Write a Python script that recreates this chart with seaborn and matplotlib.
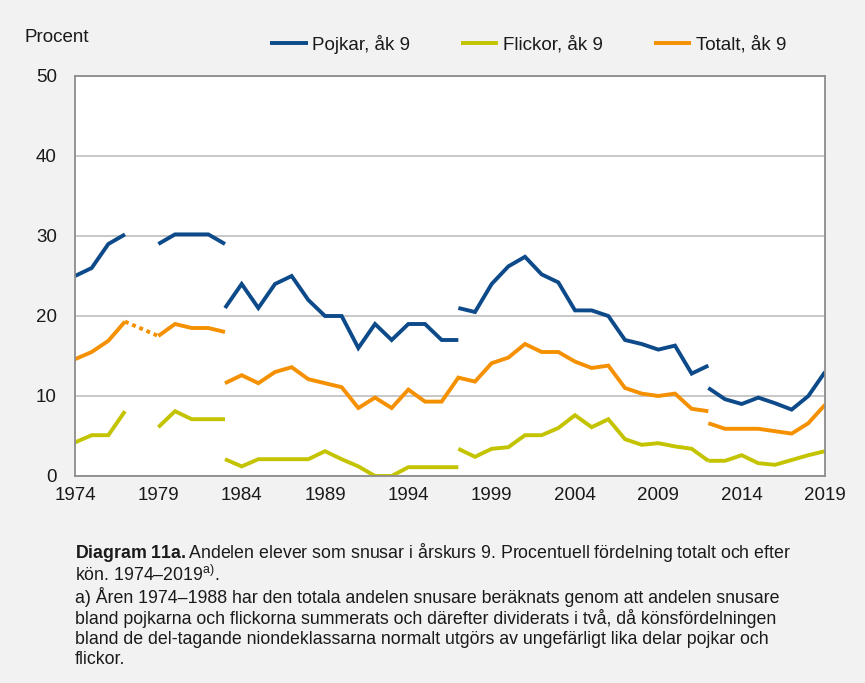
import numpy as np
import pandas as pd
import matplotlib
matplotlib.use("Agg")
import matplotlib.pyplot as plt
import seaborn as sns
from matplotlib.lines import Line2D

# ---------------- data ----------------
series_names = ["Pojkar, åk 9", "Flickor, åk 9", "Totalt, åk 9"]
legend_labels = ["Pojkar, åk 9", "Flickor, åk 9", "Totalt, åk 9"]

# Pojkar (boys) – segments
pojkar_a_years = [1974, 1975, 1976, 1977]
pojkar_a = [25.0, 26.0, 29.0, 30.2]
pojkar_b_years = [1979, 1980, 1981, 1982, 1983]
pojkar_b = [29.0, 30.2, 30.2, 30.2, 29.0]
pojkar_c_years = list(range(1983, 1998))
pojkar_c = [21.0, 24.0, 21.0, 24.0, 25.0, 22.0, 20.0, 20.0, 16.0, 19.0,
            17.0, 19.0, 19.0, 17.0, 17.0]
pojkar_d_years = list(range(1997, 2013))
pojkar_d = [21.0, 20.5, 24.0, 26.2, 27.4, 25.2, 24.2, 20.7, 20.7, 20.0,
            17.0, 16.5, 15.8, 16.3, 12.8, 13.8]
pojkar_e_years = list(range(2012, 2020))
pojkar_e = [11.0, 9.6, 9.0, 9.8, 9.1, 8.3, 10.0, 13.0]

# Flickor (girls) – segments
flickor_a_years = [1974, 1975, 1976, 1977]
flickor_a = [4.2, 5.1, 5.1, 8.1]
flickor_b_years = [1979, 1980, 1981, 1982, 1983]
flickor_b = [6.1, 8.1, 7.1, 7.1, 7.1]
flickor_c_years = list(range(1983, 1998))
flickor_c = [2.1, 1.2, 2.1, 2.1, 2.1, 2.1, 3.1, 2.1, 1.2, 0.0,
             0.0, 1.1, 1.1, 1.1, 1.1]
flickor_d_years = list(range(1997, 2013))
flickor_d = [3.4, 2.4, 3.4, 3.6, 5.1, 5.1, 6.0, 7.6, 6.1, 7.1,
             4.6, 3.9, 4.1, 3.7, 3.4, 1.9]
flickor_e_years = list(range(2012, 2020))
flickor_e = [1.9, 1.9, 2.6, 1.6, 1.4, 2.0, 2.6, 3.1]

# Totalt (total) – segments
totalt_a_years = [1974, 1975, 1976, 1977]
totalt_a = [14.6, 15.5, 16.9, 19.3]
totalt_dot_years = [1977, 1979]
totalt_dot = [19.3, 17.5]
totalt_b_years = [1979, 1980, 1981, 1982, 1983]
totalt_b = [17.5, 19.0, 18.5, 18.5, 18.0]
totalt_c_years = list(range(1983, 2013))
totalt_c = [11.6, 12.6, 11.6, 13.0, 13.6, 12.1, 11.6, 11.1, 8.5, 9.8,
            8.5, 10.8, 9.3, 9.3, 12.3, 11.8, 14.1, 14.8, 16.5, 15.5,
            15.5, 14.3, 13.5, 13.8, 11.0, 10.3, 10.0, 10.3, 8.4, 8.1]
totalt_d_years = list(range(2012, 2020))
totalt_d = [6.6, 5.9, 5.9, 5.9, 5.6, 5.3, 6.6, 8.9]

x_tick_labels = [str(y) for y in range(1974, 2020, 5)]
y_ticks = [0, 10, 20, 30, 40, 50]

caption_lines = [
    r"$\mathbf{Diagram\ 11a.}$Andelen elever som snusar i årskurs 9. Procentuell fördelning totalt och efter",
    r"kön. 1974–2019$^{\mathrm{a)}}$.",
    "a) Åren 1974–1988 har den totala andelen snusare beräknats genom att andelen snusare",
    "bland pojkarna och flickorna summerats och därefter dividerats i två, då könsfördelningen",
    "bland de del-tagande niondeklassarna normalt utgörs av ungefärligt lika delar pojkar och",
    "flickor.",
]

# ---------------- build tables ----------------
solid_segments = [
    (series_names[0], "p_a", pojkar_a_years, pojkar_a),
    (series_names[0], "p_b", pojkar_b_years, pojkar_b),
    (series_names[0], "p_c", pojkar_c_years, pojkar_c),
    (series_names[0], "p_d", pojkar_d_years, pojkar_d),
    (series_names[0], "p_e", pojkar_e_years, pojkar_e),
    (series_names[1], "f_a", flickor_a_years, flickor_a),
    (series_names[1], "f_b", flickor_b_years, flickor_b),
    (series_names[1], "f_c", flickor_c_years, flickor_c),
    (series_names[1], "f_d", flickor_d_years, flickor_d),
    (series_names[1], "f_e", flickor_e_years, flickor_e),
    (series_names[2], "t_a", totalt_a_years, totalt_a),
    (series_names[2], "t_b", totalt_b_years, totalt_b),
    (series_names[2], "t_c", totalt_c_years, totalt_c),
    (series_names[2], "t_d", totalt_d_years, totalt_d),
]
rows = []
for s, seg, yrs, vals in solid_segments:
    for y, v in zip(yrs, vals):
        rows.append({"series": s, "segment": seg, "year": y, "value": v})
df = pd.DataFrame(rows)
df_dot = pd.DataFrame({"series": series_names[2], "segment": "t_dot",
                       "year": totalt_dot_years, "value": totalt_dot})

colors = {series_names[0]: "#0d4a8a", series_names[1]: "#c3c300",
          series_names[2]: "#f59000"}

# ---------------- figure ----------------
sns.set_style("white")
plt.rcParams["font.family"] = ["Liberation Sans", "DejaVu Sans"]
plt.rcParams["mathtext.fontset"] = "custom"
plt.rcParams["mathtext.rm"] = "Liberation Sans"
plt.rcParams["mathtext.bf"] = "Liberation Sans:bold"
plt.rcParams["mathtext.it"] = "Liberation Sans:italic"

W, H = 865, 683
fig = plt.figure(figsize=(W / 100, H / 100), dpi=100, facecolor="#f2f2f2")
ax = fig.add_axes([75 / W, 1 - 476 / H, 750 / W, 400 / H])
ax.set_facecolor("white")

lw = 2.8
sns.lineplot(data=df, x="year", y="value", hue="series", units="segment",
             estimator=None, sort=False, palette=colors, linewidth=lw,
             legend=False, ax=ax)
for line in ax.lines:
    line.set_solid_capstyle("butt")
    line.set_solid_joinstyle("miter")
sns.lineplot(data=df_dot, x="year", y="value", color=colors[series_names[2]],
             linewidth=lw, linestyle=(0, (1, 1)), dash_capstyle="butt",
             estimator=None, sort=False, legend=False, ax=ax)

fs = 13.5
ax.set_xlim(1974, 2019)
ax.set_ylim(0, 50)
ax.set_xticks(np.arange(1974, 2020, 5))
ax.set_xticklabels(x_tick_labels)
ax.set_xticks(np.arange(1974, 2020, 1), minor=True)
ax.set_yticks(y_ticks)
ax.tick_params(axis="x", which="both", direction="out", length=6, width=1.2,
               color="#8c8c8c", labelsize=fs, pad=2, labelcolor="#1a1a1a")
ax.tick_params(axis="y", length=0, labelsize=fs, pad=13, labelcolor="#1a1a1a")
ax.yaxis.grid(True, color="#c4c4c4", linewidth=1.3)
ax.xaxis.grid(False)
ax.set_axisbelow(True)
ax.set_xlabel("")
ax.set_ylabel("")
for sp in ax.spines.values():
    sp.set_visible(True)
    sp.set_color("#8c8c8c")
    sp.set_linewidth(1.3)

# "Procent" label
fig.text(25 / W, 1 - 38 / H, "Procent", fontsize=fs, color="#1a1a1a",
         ha="left", va="center")

# legend
handles = [Line2D([0], [0], color=colors[s], lw=lw, solid_capstyle="butt")
           for s in series_names]
fig.legend(handles, legend_labels, loc="center left",
           bbox_to_anchor=(270 / W, 1 - 44 / H), ncol=3, frameon=False,
           fontsize=fs, handlelength=2.0, handletextpad=0.25,
           columnspacing=2.7, borderpad=0, borderaxespad=0,
           labelcolor="#1a1a1a")

# caption
cap_y = [553, 575, 597, 618, 640, 660]
for txt, yy in zip(caption_lines, cap_y):
    fig.text(75 / W, 1 - yy / H, txt, fontsize=12.8, color="#1a1a1a",
             ha="left", va="center")

fig.savefig("out.png", dpi=100, facecolor=fig.get_facecolor())
